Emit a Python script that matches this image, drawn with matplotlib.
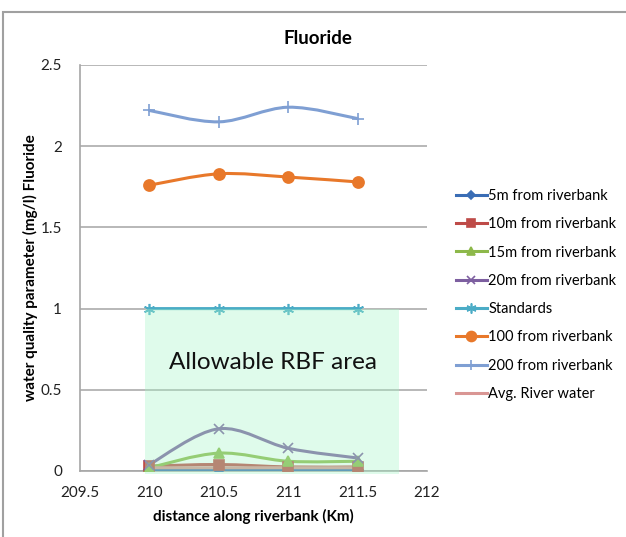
import numpy as np
import matplotlib
matplotlib.use("Agg")
import matplotlib.pyplot as plt
from matplotlib.path import Path
from matplotlib.patches import PathPatch, Rectangle
from matplotlib.lines import Line2D

plt.rcParams['font.family'] = ['Lato', 'DejaVu Sans']

# distance along riverbank (Km)
x = [210, 210.5, 211, 211.5]

# fluoride (mg/l) per series
f_5m = [0.005, 0.005, 0.005, 0.005]
f_10m = [0.03, 0.04, 0.025, 0.025]
f_15m = [0.02, 0.11, 0.06, 0.06]
f_20m = [0.04, 0.26, 0.14, 0.08]
standards = [1, 1, 1, 1]
f_100 = [1.76, 1.83, 1.81, 1.78]
f_200 = [2.22, 2.15, 2.24, 2.17]
river = [0.02, 0.02, 0.02, 0.02]

labels = ['5m from riverbank', '10m from riverbank', '15m from riverbank',
          '20m from riverbank', 'Standards', '100 from riverbank',
          '200 from riverbank', 'Avg. River water']
series = [f_5m, f_10m, f_15m, f_20m, standards, f_100, f_200, river]
colors = ['#3A6DB5', '#BE4B48', '#8DB84A', '#7D5FA0', '#4BACC6',
          '#E8782A', '#7F9FD3', '#D99694']
markers = ['D', 's', '^', 'x', (6, 2, 0), 'o', '+', None]
msizes = [5, 7, 7, 7, 8, 8, 8, 0]


def smooth_path(xs, ys):
    # excel-like smoothed line as bezier segments
    pts = np.column_stack([xs, ys]).astype(float)
    n = len(pts)
    verts = [pts[0]]
    codes = [Path.MOVETO]
    for i in range(n - 1):
        p0 = pts[max(i - 1, 0)]
        p1 = pts[i]
        p2 = pts[i + 1]
        p3 = pts[min(i + 2, n - 1)]
        c1 = p1 + (p2 - p0) / 6.0
        c2 = p2 - (p3 - p1) / 6.0
        verts += [c1, c2, p2]
        codes += [Path.CURVE4] * 3
    return Path(verts, codes)


fig = plt.figure(figsize=(6.26, 5.37), dpi=100)
ax = fig.add_axes([80 / 626, 1 - 471 / 537, (427 - 80) / 626, (471 - 65) / 537])

for ys, c, m, ms in zip(series, colors, markers, msizes):
    ax.add_patch(PathPatch(smooth_path(x, ys), facecolor='none', edgecolor=c,
                           lw=2.2, capstyle='round', zorder=3))
    if m is not None:
        ax.plot(x, ys, linestyle='none', marker=m, color=c, markersize=ms,
                markeredgewidth=1.2, zorder=4)

# allowable area overlay
ax.add_patch(Rectangle((209.97, -0.02), 1.83, 1.02, facecolor=(166 / 255, 246 / 255, 198 / 255),
                       alpha=0.35, edgecolor='none', zorder=5, clip_on=False))
ax.text(210.89, 0.67, 'Allowable RBF area', fontsize=17.5, ha='center', va='center',
        color='#111111', zorder=6)

ax.set_xlim(209.5, 212)
ax.set_ylim(0, 2.5)
ax.set_xticks([209.5, 210, 210.5, 211, 211.5, 212])
ax.set_xticklabels(['209.5', '210', '210.5', '211', '211.5', '212'])
ax.set_yticks([0, 0.5, 1, 1.5, 2, 2.5])
ax.set_yticklabels(['0', '0.5', '1', '1.5', '2', '2.5'])
ax.tick_params(axis='both', length=0, labelsize=11, colors='#222222')
ax.tick_params(axis='x', pad=11)
ax.tick_params(axis='y', pad=13)
ax.grid(axis='y', color='#ABABAB', lw=1.2)
ax.set_axisbelow(True)
for s in ['top', 'right']:
    ax.spines[s].set_visible(False)
for s in ['left', 'bottom']:
    ax.spines[s].set_color('#A6A6A6')
    ax.spines[s].set_linewidth(1.2)

ax.set_xlabel('distance along riverbank (Km)', fontsize=11, fontweight='bold', labelpad=6)
ax.set_ylabel('water quality parameter (mg/l) Fluoride', fontsize=11, fontweight='bold')
ax.yaxis.set_label_coords(-0.12, 0.5)

fig.text(318 / 626, 1 - 38 / 537, 'Fluoride', fontsize=13.5, fontweight='bold',
         ha='center', va='center')

handles = []
for c, m, ms in zip(colors, markers, msizes):
    handles.append(Line2D([], [], color=c, lw=2.2, marker=m, markersize=ms * 0.9,
                          markeredgewidth=1.2))
fig.legend(handles, labels, loc='center left', bbox_to_anchor=(456 / 626, 1 - 295 / 537),
           frameon=False, fontsize=10.5, handlelength=2.1, handletextpad=0.1,
           labelspacing=0.98, borderpad=0, borderaxespad=0)

# chart border
fig.add_artist(Rectangle((3 / 626, -0.1), 1.2, 1.1 - 12 / 537, transform=fig.transFigure,
                         facecolor='none', edgecolor='#A0A0A0', lw=1.5))

fig.savefig('out.png', dpi=100)
